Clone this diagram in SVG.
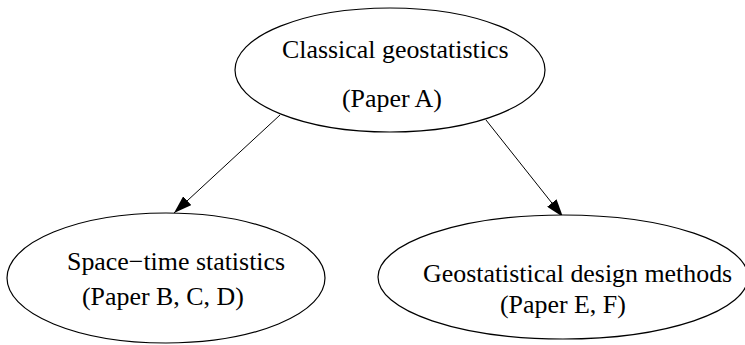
<svg xmlns="http://www.w3.org/2000/svg" width="745" height="345" viewBox="0 0 745 345">
<style>
.n ellipse{fill:#fff;stroke:#000;stroke-width:1.2}
text{font-family:"Liberation Serif","Times New Roman",serif;font-size:25.9px;fill:#000}
.e line{stroke:#000;stroke-width:1}
</style>
<defs>
<marker id="ah" markerUnits="userSpaceOnUse" markerWidth="18" markerHeight="12" refX="18" refY="6" orient="auto">
<path d="M0,0 L18,6 L0,12 z" fill="#000"/>
</marker>
</defs>
<rect width="745" height="345" fill="#fff"/>
<g class="e" id="connectors">
<line x1="280" y1="115" x2="174" y2="213" marker-end="url(#ah)"/>
<line x1="486" y1="120" x2="563" y2="217" marker-end="url(#ah)"/>
</g>
<g class="n" id="classical">
<ellipse cx="390" cy="70" rx="155" ry="62"/>
<text x="282" y="58">Classical geostatistics</text>
<text x="342" y="107">(Paper A)</text>
</g>
<g class="n" id="spacetime">
<ellipse cx="166" cy="278" rx="159" ry="65"/>
<text x="67" y="270">Space−time statistics</text>
<text x="82" y="305">(Paper B, C, D)</text>
</g>
<g class="n" id="design">
<ellipse cx="563" cy="277" rx="185" ry="62"/>
<text x="423" y="282">Geostatistical design methods</text>
<text x="500" y="313">(Paper E, F)</text>
</g>
</svg>
